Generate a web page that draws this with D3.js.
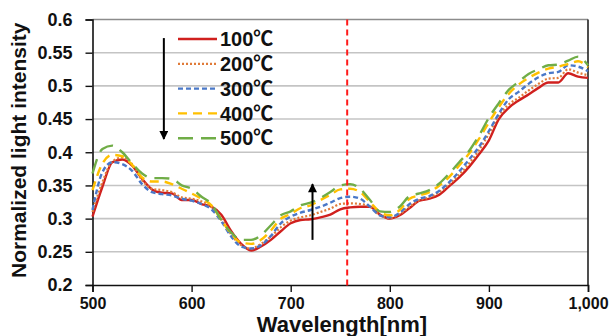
<!DOCTYPE html>
<html>
<head>
<meta charset="utf-8">
<script src="https://cdn.jsdelivr.net/npm/d3@7"></script>
<style>
  html, body { margin: 0; padding: 0; background: #fff; }
  svg { display: block; }
</style>
</head>
<body>
<svg id="chart" width="609" height="336"></svg>
<script>
// wavelength samples (nm)
const wavelengths = d3.range(500, 1001, 10);

const series100 = [0.303, 0.348, 0.385, 0.389, 0.380, 0.360, 0.344, 0.339, 0.338, 0.328,
  0.328, 0.322, 0.318, 0.306, 0.281, 0.262, 0.252, 0.258, 0.268, 0.281,
  0.293, 0.298, 0.299, 0.302, 0.306, 0.314, 0.317, 0.318, 0.318, 0.306,
  0.300, 0.305, 0.316, 0.327, 0.330, 0.336, 0.349, 0.362, 0.378, 0.397,
  0.418, 0.450, 0.467, 0.478, 0.487, 0.497, 0.505, 0.505, 0.519, 0.514, 0.512];

const series200 = [0.310, 0.355, 0.386, 0.392, 0.382, 0.358, 0.345, 0.343, 0.340, 0.332,
  0.330, 0.326, 0.318, 0.300, 0.276, 0.260, 0.255, 0.262, 0.273, 0.287,
  0.297, 0.302, 0.305, 0.310, 0.315, 0.322, 0.323, 0.322, 0.318, 0.305,
  0.301, 0.307, 0.318, 0.328, 0.332, 0.340, 0.352, 0.366, 0.383, 0.403,
  0.428, 0.455, 0.472, 0.482, 0.493, 0.503, 0.511, 0.512, 0.525, 0.520, 0.516];

const series300 = [0.313, 0.370, 0.385, 0.382, 0.372, 0.352, 0.340, 0.337, 0.335, 0.330,
  0.327, 0.322, 0.314, 0.296, 0.273, 0.258, 0.255, 0.260, 0.274, 0.293,
  0.303, 0.309, 0.313, 0.318, 0.324, 0.331, 0.333, 0.330, 0.318, 0.305,
  0.302, 0.309, 0.322, 0.330, 0.334, 0.342, 0.355, 0.371, 0.389, 0.408,
  0.432, 0.458, 0.480, 0.491, 0.503, 0.513, 0.519, 0.521, 0.531, 0.529, 0.522];

const series400 = [0.343, 0.383, 0.396, 0.394, 0.381, 0.362, 0.356, 0.356, 0.352, 0.345,
  0.338, 0.330, 0.320, 0.298, 0.277, 0.264, 0.262, 0.268, 0.282, 0.300,
  0.307, 0.316, 0.320, 0.328, 0.336, 0.344, 0.345, 0.340, 0.325, 0.310,
  0.305, 0.313, 0.330, 0.335, 0.340, 0.350, 0.363, 0.380, 0.398, 0.420,
  0.445, 0.468, 0.488, 0.502, 0.512, 0.520, 0.526, 0.529, 0.533, 0.537, 0.528];

const series500 = [0.368, 0.405, 0.410, 0.400, 0.383, 0.368, 0.361, 0.361, 0.360, 0.350,
  0.345, 0.333, 0.322, 0.298, 0.279, 0.268, 0.268, 0.275, 0.290, 0.305,
  0.311, 0.320, 0.324, 0.331, 0.340, 0.350, 0.352, 0.345, 0.328, 0.311,
  0.310, 0.318, 0.334, 0.338, 0.343, 0.353, 0.368, 0.385, 0.402, 0.425,
  0.452, 0.474, 0.494, 0.506, 0.518, 0.525, 0.531, 0.532, 0.538, 0.544, 0.531];

const seriesNames = ['100\u2103', '200\u2103', '300\u2103', '400\u2103', '500\u2103'];
const xTicks = [500, 600, 700, 800, 900, 1000];
const yTicks = [0.2, 0.25, 0.3, 0.35, 0.4, 0.45, 0.5, 0.55, 0.6];
const markerWavelength = 757;

const allSeries = [series100, series200, series300, series400, series500];
const colors = ['#d0201e', '#e07b39', '#4a78c8', '#ffc000', '#70ad47'];
const dashes = [null, '2,2', '5,3', '9,6', '15,8'];
const widths = [2.4, 2.2, 2.4, 2.4, 2.4];

const svg = d3.select('#chart');
const margin = { top: 19.5, right: 21, bottom: 51, left: 92.5 };
const width = +svg.attr('width') - margin.left - margin.right;
const height = +svg.attr('height') - margin.top - margin.bottom;

const x = d3.scaleLinear().domain([500, 1000]).range([0, width]);
const y = d3.scaleLinear().domain([0.2, 0.6]).range([height, 0]);

const g = svg.append('g')
  .attr('transform', 'translate(' + margin.left + ', ' + margin.top + ')');

// horizontal gridlines
g.append('g')
  .selectAll('line')
  .data(yTicks.slice(1))
  .enter()
  .append('line')
  .attr('x1', 0)
  .attr('x2', width)
  .attr('y1', d => y(d))
  .attr('y2', d => y(d))
  .attr('stroke', d => d === 0.6 ? '#8c8c8c' : '#c4c4c4')
  .attr('stroke-width', 1.6);

// right border
g.append('line')
  .attr('x1', width).attr('x2', width)
  .attr('y1', 0).attr('y2', height)
  .attr('stroke', '#222').attr('stroke-width', 1.6);

// y axis
const yAxis = g.append('g')
  .call(d3.axisLeft(y).tickValues(yTicks).tickSize(7).tickPadding(13)
    .tickFormat(d3.format('~g')));
yAxis.select('.domain').attr('stroke', '#111').attr('stroke-width', 1.6);
yAxis.selectAll('.tick line').attr('stroke', '#111').attr('stroke-width', 1.4);
yAxis.selectAll('text')
  .attr('font-family', 'Liberation Sans, Arial, sans-serif')
  .attr('font-weight', 'bold')
  .attr('font-size', 18)
  .attr('fill', '#111');

// x axis
const xAxis = g.append('g')
  .attr('transform', 'translate(0, ' + height + ')')
  .call(d3.axisBottom(x).tickValues(xTicks).tickSize(7).tickPadding(6));
xAxis.select('.domain').attr('stroke', '#111').attr('stroke-width', 1.6);
xAxis.selectAll('.tick line').attr('stroke', '#111').attr('stroke-width', 1.4);
xAxis.selectAll('text')
  .attr('font-family', 'Liberation Sans, Arial, sans-serif')
  .attr('font-weight', 'bold')
  .attr('font-size', 16)
  .attr('fill', '#111');

// series lines
const line = d3.line()
  .x((d, i) => x(wavelengths[i]))
  .y(d => y(d))
  .curve(d3.curveMonotoneX);

g.append('g')
  .selectAll('path')
  .data(allSeries)
  .enter()
  .append('path')
  .attr('d', line)
  .attr('fill', 'none')
  .attr('stroke', (d, i) => colors[i])
  .attr('stroke-width', (d, i) => widths[i])
  .attr('stroke-dasharray', (d, i) => dashes[i]);

// red vertical marker
g.append('line')
  .attr('x1', x(markerWavelength)).attr('x2', x(markerWavelength))
  .attr('y1', 0).attr('y2', height + 3)
  .attr('stroke', '#ff1a1a')
  .attr('stroke-width', 2)
  .attr('stroke-dasharray', '6,4');

// arrows
svg.append('defs').append('marker')
  .attr('id', 'head')
  .attr('viewBox', '0 0 10 10')
  .attr('refX', 9).attr('refY', 5)
  .attr('markerWidth', 10).attr('markerHeight', 9)
  .attr('markerUnits', 'userSpaceOnUse')
  .attr('orient', 'auto')
  .append('path')
  .attr('d', 'M0,0 L10,5 L0,10 Z')
  .attr('fill', '#000');

const arrows = [
  { x: 572, from: 0.572, to: 0.42 },
  { x: 722, from: 0.268, to: 0.352 }
];
g.append('g')
  .selectAll('line')
  .data(arrows)
  .enter()
  .append('line')
  .attr('x1', d => x(d.x)).attr('x2', d => x(d.x))
  .attr('y1', d => y(d.from)).attr('y2', d => y(d.to))
  .attr('stroke', '#000')
  .attr('stroke-width', 2)
  .attr('marker-end', 'url(#head)');

// legend
const legend = svg.append('g')
  .selectAll('g')
  .data(seriesNames)
  .enter()
  .append('g')
  .attr('transform', (d, i) => 'translate(178, ' + (39 + i * 24.8) + ')');

legend.append('line')
  .attr('x1', 0).attr('x2', 39)
  .attr('y1', 0).attr('y2', 0)
  .attr('stroke', (d, i) => colors[i])
  .attr('stroke-width', (d, i) => widths[i])
  .attr('stroke-dasharray', (d, i) => dashes[i]);

legend.append('text')
  .attr('x', 42)
  .attr('y', 0)
  .attr('dy', '0.36em')
  .attr('font-family', 'Liberation Sans, Noto Sans CJK JP, sans-serif')
  .attr('font-weight', 'bold')
  .attr('font-size', 20)
  .attr('fill', '#111')
  .text(d => d);

// axis titles
svg.append('text')
  .attr('transform', 'translate(26, ' + (margin.top + height / 2 - 2) + ') rotate(-90)')
  .attr('text-anchor', 'middle')
  .attr('font-family', 'Liberation Sans, Arial, sans-serif')
  .attr('font-weight', 'bold')
  .attr('font-size', 21)
  .attr('fill', '#111')
  .text('Normalized light intensity');

svg.append('text')
  .attr('x', 342)
  .attr('y', 332)
  .attr('text-anchor', 'middle')
  .attr('font-family', 'Liberation Sans, Arial, sans-serif')
  .attr('font-weight', 'bold')
  .attr('font-size', 22)
  .attr('fill', '#111')
  .text('Wavelength[nm]');
</script>
</body>
</html>
